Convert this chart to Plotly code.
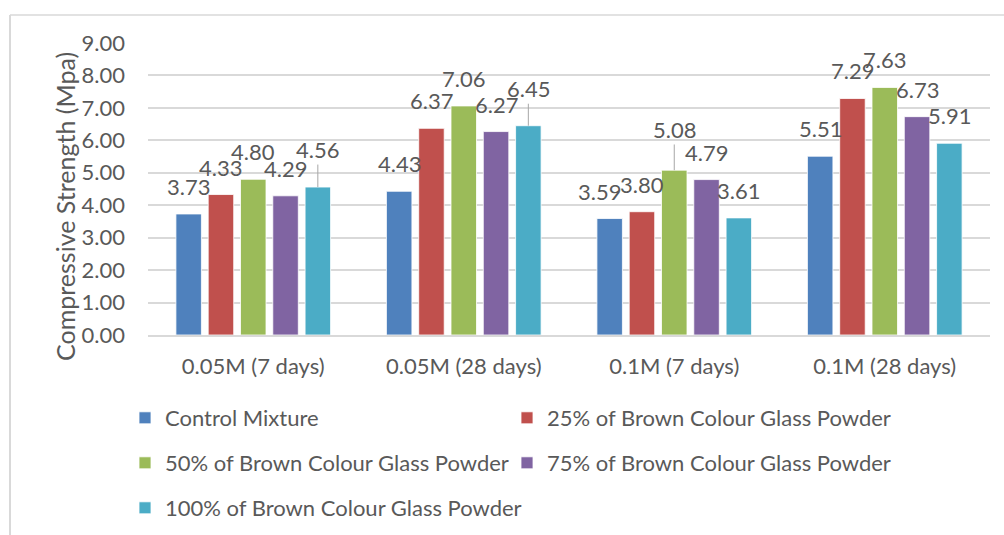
import plotly.graph_objects as go

# Compressive strength of mixtures at two molarities and two curing ages
categories = ["0.05M (7 days)", "0.05M (28 days)", "0.1M (7 days)", "0.1M (28 days)"]
series_names = [
    "Control Mixture",
    "25% of Brown Colour Glass Powder",
    "50% of Brown Colour Glass Powder",
    "75% of Brown Colour Glass Powder",
    "100% of Brown Colour Glass Powder",
]
control = [3.73, 4.43, 3.59, 5.51]
glass_25 = [4.33, 6.37, 3.80, 7.29]
glass_50 = [4.80, 7.06, 5.08, 7.63]
glass_75 = [4.29, 6.27, 4.79, 6.73]
glass_100 = [4.56, 6.45, 3.61, 5.91]
y_ticks = [0, 1, 2, 3, 4, 5, 6, 7, 8, 9]

series_values = [control, glass_25, glass_50, glass_75, glass_100]
colors = ["#4F81BD", "#C0504D", "#9BBB59", "#8064A2", "#4BACC6"]

FONT = "Lato"
TEXT = "#595959"
GRID = "#D9D9D9"
BARGAP = 0.233

# Label placement (pixels relative to the bar top): default sits above the bar;
# a few labels are pulled up with a leader line or nudged sideways.
DEFAULT_DY = -24.5
label_dy = {(4, 0): -34.5, (4, 1): -34.0, (2, 2): -37.7}
label_dx = {(0, 2): -10.5}
leader = {(4, 0), (4, 1), (2, 2)}

# Legend laid out as a two-column grid: one single-entry legend per cell
legend_ids = ["legend", "legend2", "legend3", "legend4", "legend5"]
legend_cells = [(125, 418), (507, 418), (125, 463), (507, 463), (125, 508)]

fig = go.Figure()
for i, (name, vals, col) in enumerate(zip(series_names, series_values, colors)):
    fig.add_trace(go.Bar(
        name=name, x=categories, y=vals,
        marker=dict(color=col, line=dict(color="white", width=0.8)),
        legend=legend_ids[i], showlegend=True,
    ))

slot = (1 - BARGAP) / len(series_values)
annotations = []
for i, vals in enumerate(series_values):
    for g, v in enumerate(vals):
        key = (i, g)
        annotations.append(dict(
            x=g + (i - (len(series_values) - 1) / 2) * slot, y=v,
            xref="x", yref="y",
            text=f"{v:.2f}",
            showarrow=True, arrowhead=0, arrowwidth=1,
            arrowcolor="#A6A6A6" if key in leader else "rgba(0,0,0,0)",
            ax=label_dx.get(key, 0), ay=label_dy.get(key, DEFAULT_DY) - 3,
            font=dict(family=FONT, size=22, color=TEXT),
        ))

# Y-axis title
annotations.append(dict(
    text="Compressive Strength (Mpa)", textangle=-90,
    xref="paper", yref="paper", x=-0.0986, y=0.4418,
    showarrow=False, xanchor="center", yanchor="middle",
    font=dict(family=FONT, size=25, color=TEXT),
))

# Chart frame: left and top edges
shapes = [
    dict(type="line", xref="paper", yref="paper", x0=-0.1639, x1=-0.1639, y0=1.0959, y1=-0.70,
         line=dict(color=GRID, width=2)),
    dict(type="line", xref="paper", yref="paper", x0=-0.1639, x1=1.03, y0=1.0959, y1=1.0959,
         line=dict(color=GRID, width=1.5)),
]

W, H = 1004, 535
legend_layout = {}
for lid, (cx, cy) in zip(legend_ids, legend_cells):
    legend_layout[lid] = dict(
        orientation="v", xref="container", yref="container",
        x=cx / W, y=1 - cy / H, xanchor="left", yanchor="middle",
        font=dict(family=FONT, size=22, color=TEXT),
        bgcolor="rgba(0,0,0,0)", borderwidth=0, visible=True,
    )

fig.update_layout(
    width=W, height=H,
    showlegend=True,
    margin=dict(l=148, r=14, t=43, b=200, autoexpand=False),
    paper_bgcolor="white", plot_bgcolor="white",
    barmode="group", bargap=BARGAP, bargroupgap=0.21,
    font=dict(family=FONT, size=22, color=TEXT),
    xaxis=dict(
        type="category", showline=True, linecolor=GRID, linewidth=1.5,
        showgrid=False, ticks="", ticklabelstandoff=11,
        tickfont=dict(family=FONT, size=22, color=TEXT),
    ),
    yaxis=dict(
        range=[0, 9], tickvals=y_ticks, tickformat=".2f",
        showgrid=True, gridcolor=GRID, gridwidth=1.5,
        zeroline=False, showline=False, ticks="", ticklabelstandoff=22,
        tickfont=dict(family=FONT, size=22, color=TEXT),
    ),
    annotations=annotations,
    shapes=shapes,
    **legend_layout,
)

fig.write_html("out.html")
